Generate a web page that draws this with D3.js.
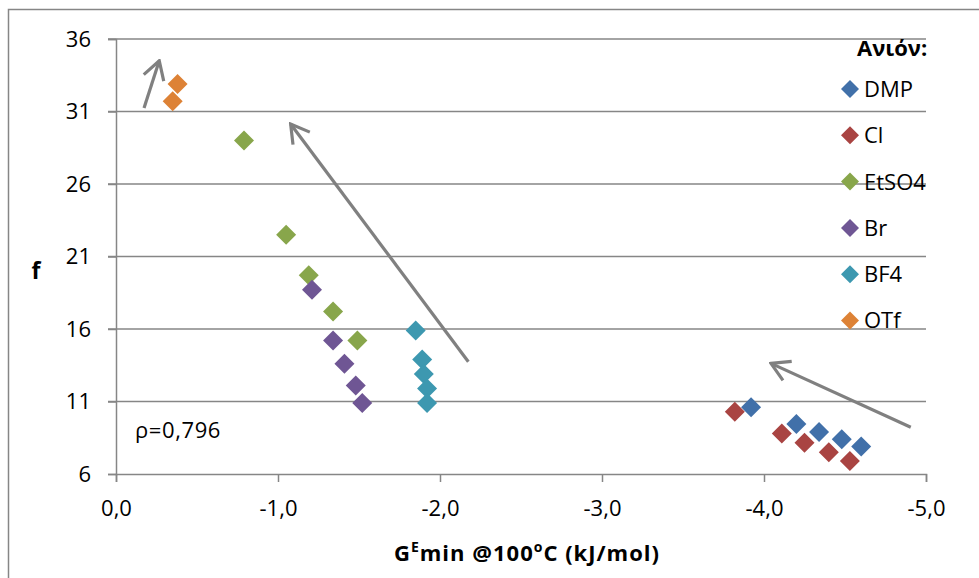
<!DOCTYPE html>
<html>
<head>
<meta charset="utf-8">
<script src="https://cdn.jsdelivr.net/npm/d3@7"></script>
<style>
  body { margin: 0; background: #fff; }
  svg { display: block; font-family: "Open Sans", sans-serif; }
</style>
</head>
<body>
<div id="chart"></div>
<script>
// series: x = GEmin (kJ/mol), y = f
const seriesNames = ["DMP", "Cl", "EtSO4", "Br", "BF4", "OTf"];
const seriesColors = ["#4170a9", "#a94442", "#88a64b", "#6f5694", "#3d98b0", "#dd8236"];
const dmpX = [-3.92, -4.20, -4.34, -4.48, -4.60];
const dmpY = [10.6, 9.45, 8.9, 8.4, 7.9];
const clX = [-3.82, -4.11, -4.25, -4.40, -4.53];
const clY = [10.3, 8.8, 8.15, 7.5, 6.9];
const etso4X = [-0.79, -1.05, -1.19, -1.34, -1.49];
const etso4Y = [29.0, 22.5, 19.7, 17.2, 15.2];
const brX = [-1.21, -1.34, -1.41, -1.48, -1.52];
const brY = [18.7, 15.2, 13.6, 12.1, 10.9];
const bf4X = [-1.85, -1.89, -1.90, -1.92, -1.92];
const bf4Y = [15.9, 13.9, 12.9, 11.9, 10.9];
const otfX = [-0.38, -0.35];
const otfY = [32.9, 31.7];

const xTicks = [0, -1, -2, -3, -4, -5];
const yTicks = [6, 11, 16, 21, 26, 31, 36];

// trend arrows in data units: [x0, y0, x1, y1] (tail -> tip)
const arrows = [
  [-0.173, 31.24, -0.267, 34.5],
  [-2.175, 13.74, -1.078, 30.14],
  [-4.906, 9.22, -4.043, 13.63]
];

const width = 979, height = 578;
const plot = {left: 116, right: 926, top: 39, bottom: 474};
const grey = "#868686";

const x = d3.scaleLinear().domain([0, -5]).range([plot.left, plot.right]);
const y = d3.scaleLinear().domain([6, 36]).range([plot.bottom, plot.top]);

const series = [
  [dmpX, dmpY], [clX, clY], [etso4X, etso4Y], [brX, brY], [bf4X, bf4Y], [otfX, otfY]
].map(([X, Y], i) => ({
  name: seriesNames[i],
  color: seriesColors[i],
  points: X.map((v, j) => [v, Y[j]])
}));

const svg = d3.select("#chart").append("svg")
    .attr("width", width)
    .attr("height", height)
    .attr("viewBox", [0, 0, width, height]);

// chart area border (only top and left visible in the crop)
svg.append("rect")
    .attr("x", 8.5).attr("y", 9.5)
    .attr("width", 1100).attr("height", 700)
    .attr("fill", "none")
    .attr("stroke", grey)
    .attr("stroke-width", 1.5);

// gridlines
svg.append("g")
  .selectAll("line")
  .data(yTicks.filter(d => d !== 6))
  .join("line")
    .attr("x1", plot.left - 8)
    .attr("x2", plot.right)
    .attr("y1", d => y(d))
    .attr("y2", d => y(d))
    .attr("stroke", grey)
    .attr("stroke-width", 1.5);

// y axis
const yAxis = svg.append("g")
    .attr("transform", `translate(${plot.left},0)`)
    .call(d3.axisLeft(y).tickValues(yTicks).tickSize(8).tickPadding(17).tickFormat(d3.format("d")));
yAxis.select(".domain").attr("stroke", grey).attr("stroke-width", 1.5);
yAxis.selectAll(".tick line").attr("stroke", grey).attr("stroke-width", 1.5);
yAxis.selectAll(".tick text")
    .attr("font-family", "Open Sans")
    .attr("font-size", 22)
    .attr("fill", "#000");

// x axis
const xAxis = svg.append("g")
    .attr("transform", `translate(0,${plot.bottom})`)
    .call(d3.axisBottom(x).tickValues(xTicks).tickSize(8).tickPadding(18)
      .tickFormat(d => d3.format(".1f")(d).replace("−", "-").replace(".", ",")));
xAxis.select(".domain").attr("stroke", grey).attr("stroke-width", 1.5);
xAxis.selectAll(".tick line").attr("stroke", grey).attr("stroke-width", 1.5);
xAxis.selectAll(".tick text")
    .attr("font-family", "Open Sans")
    .attr("font-size", 22)
    .attr("fill", "#000");

// axis titles
svg.append("text")
    .attr("x", 36)
    .attr("y", 279)
    .attr("text-anchor", "middle")
    .attr("font-weight", "bold")
    .attr("font-size", 23)
    .text("f");

const xt = svg.append("text")
    .attr("x", 527)
    .attr("y", 561)
    .attr("text-anchor", "middle")
    .attr("font-weight", "bold")
    .attr("font-size", 22)
    .attr("letter-spacing", 1);
xt.append("tspan").text("G");
xt.append("tspan").attr("font-size", 14).attr("dy", -9).text("E");
xt.append("tspan").attr("dy", 9).text("min @100");
xt.append("tspan").attr("font-size", 14).attr("dy", -9).text("o");
xt.append("tspan").attr("dy", 9).text("C (kJ/mol)");

// arrows
const defs = svg.append("defs");
defs.append("marker")
    .attr("id", "head")
    .attr("viewBox", "-22 -13 24 26")
    .attr("refX", 0).attr("refY", 0)
    .attr("markerWidth", 24).attr("markerHeight", 26)
    .attr("markerUnits", "userSpaceOnUse")
    .attr("orient", "auto")
  .append("path")
    .attr("d", "M-18,-10.5L0,0L-18,10.5")
    .attr("fill", "none")
    .attr("stroke", "#808080")
    .attr("stroke-width", 3.2);

svg.append("g")
  .selectAll("line")
  .data(arrows)
  .join("line")
    .attr("x1", d => x(d[0]))
    .attr("y1", d => y(d[1]))
    .attr("x2", d => x(d[2]))
    .attr("y2", d => y(d[3]))
    .attr("stroke", "#808080")
    .attr("stroke-width", 3.2)
    .attr("marker-end", "url(#head)");

// points
const diamond = r => `M0,${-r}L${r},0L0,${r}L${-r},0Z`;
svg.append("g")
  .selectAll("g")
  .data(series)
  .join("g")
    .attr("fill", d => d.color)
  .selectAll("path")
  .data(d => d.points)
  .join("path")
    .attr("transform", d => `translate(${x(d[0])},${y(d[1])})`)
    .attr("d", diamond(10));

// correlation label
svg.append("text")
    .attr("x", 135)
    .attr("y", 438)
    .attr("font-size", 22)
    .attr("letter-spacing", 0.6)
    .text("ρ=0,796");

// legend
const legend = svg.append("g");
legend.append("text")
    .attr("x", 857)
    .attr("y", 56)
    .attr("font-weight", "bold")
    .attr("font-size", 22)
    .text("Ανιόν:");
const item = legend.selectAll("g.item")
  .data(series)
  .join("g")
    .attr("class", "item")
    .attr("transform", (d, i) => `translate(850,${89 + i * 46.3})`);
item.append("path")
    .attr("d", diamond(9))
    .attr("fill", d => d.color);
item.append("text")
    .attr("x", 14)
    .attr("dy", "0.36em")
    .attr("font-size", 22)
    .text(d => d.name);
</script>
</body>
</html>
